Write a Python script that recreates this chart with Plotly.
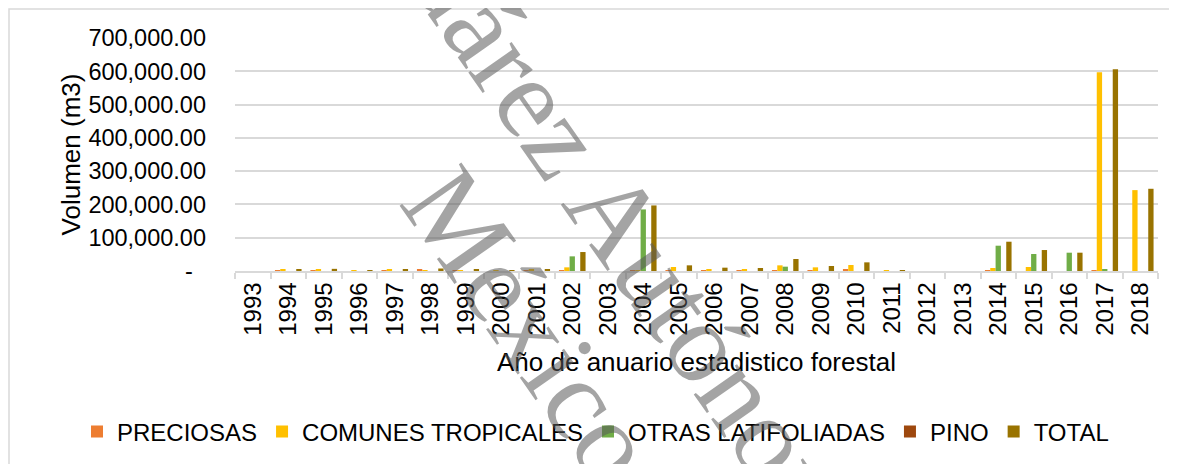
import plotly.graph_objects as go

# Año de anuario estadistico forestal
years = [str(y) for y in range(1993, 2019)]

# Volumen (m3) por grupo de especies
preciosas = [0, 500, 500, 0, 500, 4000, 3000, 0, 500, 1000,
             0, 3000, 1500, 1500, 2000, 2000, 2000, 6000, 0, 0,
             0, 1500, 0, 0, 1000, 0]
comunes_tropicales = [0, 4000, 5000, 1000, 5000, 1000, 500, 1000, 4000, 11000,
                      0, 3000, 12000, 5000, 4000, 17000, 11000, 18000, 2000, 0,
                      0, 9000, 12000, 0, 597000, 243000]
otras_latifoliadas = [0, 0, 0, 0, 0, 0, 0, 0, 0, 44000,
                      0, 185000, 0, 0, 0, 13000, 0, 0, 0, 0,
                      0, 76000, 51000, 55000, 5000, 0]
pino = [0, 0, 0, 0, 0, 0, 0, 0, 0, 0,
        0, 0, 0, 0, 0, 0, 0, 0, 0, 0,
        0, 0, 0, 0, 0, 0]
total = [0, 6000, 6500, 2000, 6000, 7500, 5000, 1000, 5000, 57000,
         0, 197000, 17000, 10000, 9000, 36000, 15000, 26000, 2000, 0,
         0, 88000, 63000, 55000, 606000, 247000]

series = [
    ("PRECIOSAS", preciosas, "#ED7D31"),
    ("COMUNES TROPICALES", comunes_tropicales, "#FFC000"),
    ("OTRAS LATIFOLIADAS", otras_latifoliadas, "#70AD47"),
    ("PINO", pino, "#9E480E"),
    ("TOTAL", total, "#997300"),
]

y_ticks = [0, 100000, 200000, 300000, 400000, 500000, 600000, 700000]
y_ticktext = ["-\u00a0\u00a0"] + [f"{v:,.2f}" for v in y_ticks[1:]]

FONT = "Arial, Liberation Sans, sans-serif"
GRID = "#D9D9D9"

fig = go.Figure()
for name, vals, color in series:
    fig.add_trace(go.Bar(x=years, y=vals, name=name, marker_color=color,
                         marker_line_width=0))

# la pagina tiene 8px de margen en el body
OFF = 8
FW, FH = 1177 - OFF, 464 - OFF
# area de trazado en pixeles de pantalla: x 235..1158, y 38..271
L, R, T, B = 235, 1158, 38, 271
W, H = R - L, B - T


def px(x):
    return (x - L) / W


def py(y):
    return (B - y) / H


fig.update_layout(
    width=FW, height=FH,
    margin=dict(l=L - OFF, r=FW - (R - OFF), t=T - OFF, b=FH - (B - OFF),
                autoexpand=False),
    paper_bgcolor="white", plot_bgcolor="white",
    font=dict(family=FONT, size=24, color="#000000"),
    barmode="group", bargap=0.25, bargroupgap=0,
    showlegend=True,
    legend=dict(orientation="h", xref="paper", yref="paper",
                x=px(77), xanchor="left",
                y=py(432), yanchor="middle", font=dict(size=24),
                itemwidth=30, traceorder="normal"),
    xaxis=dict(
        type="category", tickangle=-90, tickfont=dict(size=24),
        showline=True, linecolor=GRID, linewidth=1.5,
        ticks="outside", tickson="boundaries", ticklen=6,
        tickcolor=GRID, tickwidth=1.5, showgrid=False, automargin=False,
        title=dict(text="Año de anuario estadistico forestal",
                   font=dict(size=26), standoff=18),
    ),
    yaxis=dict(
        range=[0, 700000], tickvals=y_ticks, ticktext=y_ticktext,
        tickfont=dict(size=23.5), showgrid=True, gridcolor=GRID,
        gridwidth=1.5, zeroline=False, showline=False, automargin=False,
        ticklabelstandoff=28,
        title=dict(text="Volumen (m3)", font=dict(size=26), standoff=0),
    ),
)

# marco del area del grafico
fig.add_shape(type="rect", xref="paper", yref="paper",
              x0=px(9), x1=px(1300), y0=py(600), y1=py(9),
              line=dict(color=GRID, width=1.5), layer="below")

# marca de agua
WM = dict(family="Liberation Serif, Times New Roman, serif", size=115,
          color="rgba(90,90,90,0.55)")
fig.add_annotation(text="Juárez Autónoma", xref="paper", yref="paper",
                   x=px(641), y=py(251), xanchor="center", yanchor="middle",
                   textangle=55, showarrow=False, font=WM)
fig.add_annotation(text="México", xref="paper", yref="paper",
                   x=px(530), y=py(324), xanchor="center", yanchor="middle",
                   textangle=55, showarrow=False, font=WM)

fig.write_html("out.html")
